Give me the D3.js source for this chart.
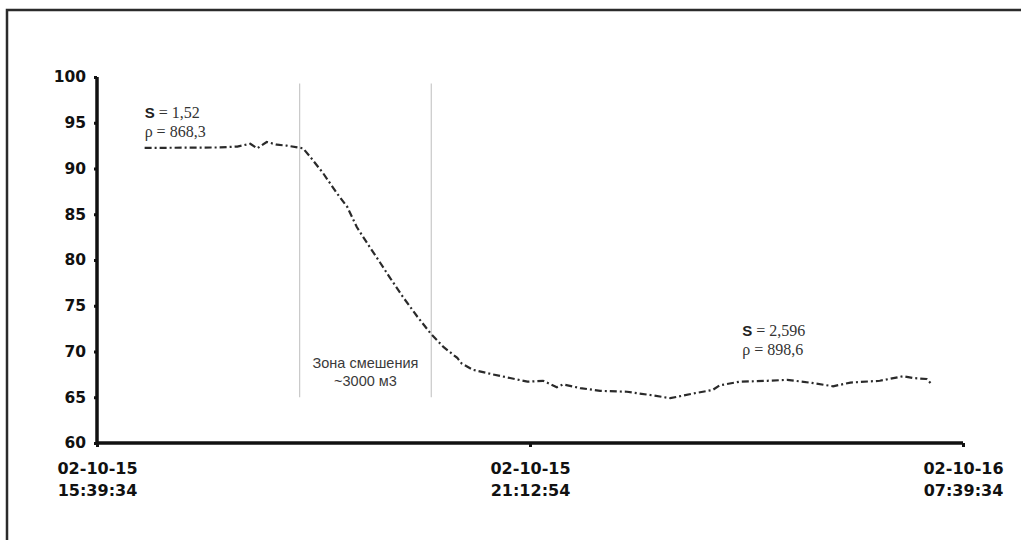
<!DOCTYPE html>
<html>
<head>
<meta charset="utf-8">
<script src="https://cdn.jsdelivr.net/npm/d3@7"></script>
<style>
  body { margin: 0; background: #fff; }
  svg { display: block; }
</style>
</head>
<body>
<svg id="chart" width="1021" height="540"></svg>
<script>
// position along the record, % of the run (axis labels are at 0, 50 and 100)
var progress = [5.5, 14.2, 16.2, 17.7, 18.5, 19.6, 20.8, 21.9, 23.8, 24.6, 26.1, 27.7, 28.9, 30.0, 31.5,
  32.7, 33.8, 35.3, 37.0, 38.5, 40.0, 41.6, 42.1, 43.4, 45.7, 47.7, 49.7, 51.5, 53.1, 53.8, 55.8,
  58.1, 61.2, 64.2, 66.2, 68.8, 71.1, 71.9, 74.2, 77.4, 79.7, 82.3, 85.0, 87.0, 90.4, 93.1, 94.2,
  95.8, 96.4];
var values = [92.25, 92.3, 92.4, 92.7, 92.2, 92.9, 92.6, 92.5, 92.2, 91.3, 89.5, 87.3, 85.8, 83.6, 81.4,
  79.7, 78.1, 76.0, 73.8, 72.0, 70.5, 69.3, 68.7, 68.0, 67.5, 67.1, 66.7, 66.8, 66.1, 66.4, 66.0,
  65.7, 65.6, 65.2, 64.9, 65.4, 65.8, 66.3, 66.7, 66.8, 66.9, 66.6, 66.2, 66.6, 66.8, 67.3, 67.1,
  67.0, 66.4];

var yTicks = [60, 65, 70, 75, 80, 85, 90, 95, 100];
var xTicks = [0, 50, 100];
var xTickLabels = [["02-10-15", "15:39:34"], ["02-10-15", "21:12:54"], ["02-10-16", "07:39:34"]];
var zoneBounds = [23.4, 38.6];
var zoneText = ["Зона смешения", "~3000 м3"];

var svg = d3.select("#chart");

// outer frame (top and left edges only visible)
svg.append("path")
  .attr("d", "M7,540 V10 H1021")
  .attr("fill", "none")
  .attr("stroke", "#2b2b2b")
  .attr("stroke-width", 2.5);

var x = d3.scaleLinear().domain([0, 100]).range([97, 963]);
var y = d3.scaleLinear().domain([60, 100]).range([443, 77]);

// mixing zone borders
svg.selectAll("line.zone")
  .data(zoneBounds)
  .enter().append("line")
  .attr("class", "zone")
  .attr("x1", d => x(d)).attr("x2", d => x(d))
  .attr("y1", y(99.3)).attr("y2", y(65))
  .attr("stroke", "#c8c8c8")
  .attr("stroke-width", 1.2);

svg.append("text")
  .attr("x", x(d3.mean(zoneBounds)))
  .attr("y", 368)
  .attr("text-anchor", "middle")
  .attr("font-family", "Liberation Sans, Arial, sans-serif")
  .attr("font-size", 14.5)
  .attr("fill", "#3a3a3a")
  .selectAll("tspan")
  .data(zoneText)
  .enter().append("tspan")
  .attr("x", x(d3.mean(zoneBounds)))
  .attr("dy", (d, i) => i ? 18 : 0)
  .text(d => d);

// y axis
var yAxis = svg.append("g")
  .attr("transform", "translate(" + x(0) + ",0)")
  .call(d3.axisLeft(y).tickValues(yTicks).tickSize(3).tickPadding(8));
yAxis.select(".domain").attr("stroke", "#111").attr("stroke-width", 3.5)
  .attr("d", "M0," + y(100) + "V" + y(60));
yAxis.selectAll(".tick line").attr("stroke", "#111").attr("stroke-width", 3);
yAxis.selectAll(".tick text")
  .attr("font-family", "DejaVu Sans, Verdana, sans-serif")
  .attr("font-weight", "bold")
  .attr("font-size", 15.5)
  .attr("fill", "#111");

// x axis
var xAxis = svg.append("g")
  .attr("transform", "translate(0," + y(60) + ")")
  .call(d3.axisBottom(x).tickValues(xTicks).tickSize(4).tickFormat(""));
xAxis.select(".domain").attr("stroke", "#111").attr("stroke-width", 3.5)
  .attr("d", "M" + x(0) + ",0H" + x(100));
xAxis.selectAll(".tick line").attr("stroke", "#111").attr("stroke-width", 3);
xAxis.selectAll(".tick").each(function (d, i) {
  d3.select(this).append("text")
    .attr("text-anchor", "middle")
    .attr("font-family", "DejaVu Sans, Verdana, sans-serif")
    .attr("font-weight", "bold")
    .attr("font-size", 16)
    .attr("fill", "#111")
    .selectAll("tspan")
    .data(xTickLabels[i])
    .enter().append("tspan")
    .attr("x", 0)
    .attr("y", (t, j) => 31 + j * 22)
    .text(t => t);
});

// data line
var pts = progress.map((p, i) => [p, values[i]]);
svg.append("path")
  .datum(pts)
  .attr("fill", "none")
  .attr("stroke", "#2a2a2a")
  .attr("stroke-width", 2.2)
  .attr("stroke-dasharray", "7,3,2,3")
  .attr("d", d3.line().x(d => x(d[0])).y(d => y(d[1])));

// property labels
function propLabel(px, py, s, rho) {
  var t1 = svg.append("text").attr("x", px).attr("y", py);
  t1.append("tspan").attr("font-family", "Liberation Sans, Arial, sans-serif")
    .attr("font-weight", "bold").attr("font-size", 15).attr("fill", "#222").text("S");
  t1.append("tspan").attr("font-family", "Liberation Serif, Times New Roman, serif")
    .attr("font-size", 16).attr("fill", "#333").text(" = " + s);
  svg.append("text").attr("x", px).attr("y", py + 19)
    .attr("font-family", "Liberation Serif, Times New Roman, serif")
    .attr("font-size", 16).attr("fill", "#333")
    .text("ρ = " + rho);
}
propLabel(x(5.5), 118, "1,52", "868,3");
propLabel(x(74.5), 336, "2,596", "898,6");
</script>
</body>
</html>
